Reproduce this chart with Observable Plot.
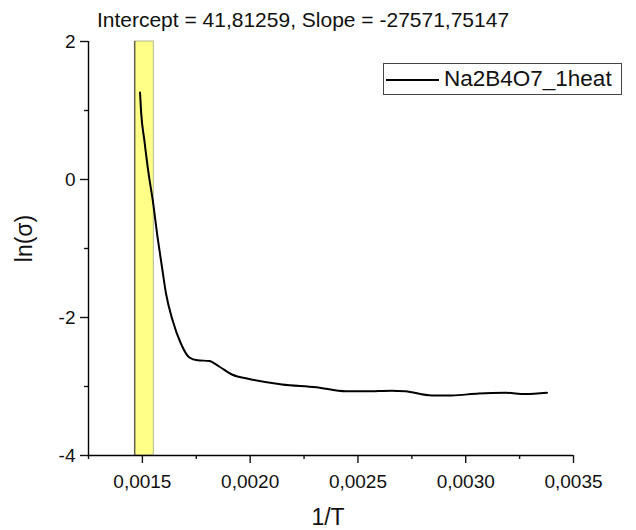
<!DOCTYPE html>
<html>
<head>
<meta charset="utf-8">
<script src="https://cdn.jsdelivr.net/npm/d3@7"></script>
<script src="https://cdn.jsdelivr.net/npm/@observablehq/plot@0.6"></script>
<style>
  html, body { margin: 0; padding: 0; background: white; }
  #wrap { position: relative; width: 636px; height: 530px; font-family: "Liberation Sans", Arial, sans-serif; }
  #legend { position: absolute; left: 383px; top: 63px; width: 239px; height: 32px; border: 1px solid #444; box-sizing: border-box; background: white; }
  #legend .ln { position: absolute; left: 2px; top: 15px; width: 53px; height: 2px; background: black; }
  #legend .tx { position: absolute; left: 60px; top: 2px; font-size: 22.5px; line-height: 26px; color: #111; white-space: nowrap; }
</style>
</head>
<body>
<div id="wrap"></div>
<script>
const titleText = "Intercept = 41,81259, Slope = -27571,75147";
const xLabel = "1/T";
const yLabel = "ln(σ)";
const seriesName = "Na2B4O7_1heat";

const invT = [0.001489, 0.001494, 0.001509, 0.001529, 0.001548, 0.001571, 0.001590, 0.001610, 0.001640, 0.001679, 0.001718, 0.001756, 0.001810, 0.001856, 0.001918, 0.001995, 0.002148, 0.002306, 0.002444, 0.002537, 0.002657, 0.002720, 0.002843, 0.002935, 0.003060, 0.003184, 0.003276, 0.003377];
const lnSigma = [1.26, 0.98, 0.57, 0.08, -0.30, -0.85, -1.25, -1.66, -2.04, -2.38, -2.58, -2.62, -2.63, -2.71, -2.83, -2.89, -2.97, -3.01, -3.07, -3.07, -3.06, -3.07, -3.13, -3.13, -3.10, -3.09, -3.11, -3.09];

const bandRange = [0.001465, 0.001553];
const xDomain = [0.00125, 0.0035];
const yDomain = [-4, 2];
const xMajor = [0.0015, 0.0020, 0.0025, 0.0030, 0.0035];
const xMinor = [0.00125, 0.00175, 0.00225, 0.00275, 0.00325];
const yMajor = [-4, -2, 0, 2];
const yMinor = [-3, -1, 1];

const data = invT.map((v, i) => ({x: v, y: lnSigma[i]}));

const chart = Plot.plot({
  width: 636,
  height: 530,
  marginLeft: 88,
  marginRight: 63,
  marginTop: 41,
  marginBottom: 75,
  x: {domain: xDomain, label: null},
  y: {domain: yDomain, label: null},
  style: {fontFamily: "'Liberation Sans', Arial, sans-serif", fontSize: "19px", color: "#111", background: "white", overflow: "visible"},
  marks: [
    Plot.rect([bandRange], {x1: d => d[0], x2: d => d[1], y1: yDomain[0], y2: yDomain[1], fill: "#ffff88", stroke: "#b8b890", strokeWidth: 1}),
    Plot.ruleX([bandRange[0]], {y1: yDomain[0], y2: yDomain[1], stroke: "#333", strokeWidth: 1}),
    Plot.line(data, {x: "x", y: "y", curve: "monotone-x", stroke: "black", strokeWidth: 2}),
    Plot.ruleX([xDomain[0]], {stroke: "black", strokeWidth: 1.4}),
    Plot.ruleY([yDomain[0]], {stroke: "black", strokeWidth: 1.4}),
    Plot.axisY(yMajor, {tickSize: 8, tickPadding: 5, tickFormat: d => String(d), fontSize: 19, label: null, strokeWidth: 1.4}),
    Plot.axisY(yMinor, {tickSize: 4, tickFormat: () => "", label: null, strokeWidth: 1.4}),
    Plot.axisX(xMajor, {tickSize: 8, tickPadding: 11, tickFormat: d => d.toFixed(4).replace(".", ","), fontSize: 19, label: null, strokeWidth: 1.4}),
    Plot.axisX(xMinor, {tickSize: 4, tickFormat: () => "", label: null, strokeWidth: 1.4}),
    Plot.text([titleText], {frameAnchor: "top", lineAnchor: "middle", dx: -28, dy: -21, fontSize: 21, fill: "#111"}),
    Plot.text([xLabel], {frameAnchor: "bottom", lineAnchor: "middle", dx: -3, dy: 62, fontSize: 23, fill: "#111"}),
    Plot.text([yLabel], {frameAnchor: "left", textAnchor: "middle", lineAnchor: "middle", dx: -64, dy: -10, rotate: -90, fontSize: 23, fill: "#111"})
  ]
});

const wrap = document.getElementById("wrap");
wrap.appendChild(chart);
const legend = document.createElement("div");
legend.id = "legend";
legend.innerHTML = '<div class="ln"></div><div class="tx"></div>';
legend.querySelector(".tx").textContent = seriesName;
wrap.appendChild(legend);
</script>
</body>
</html>
